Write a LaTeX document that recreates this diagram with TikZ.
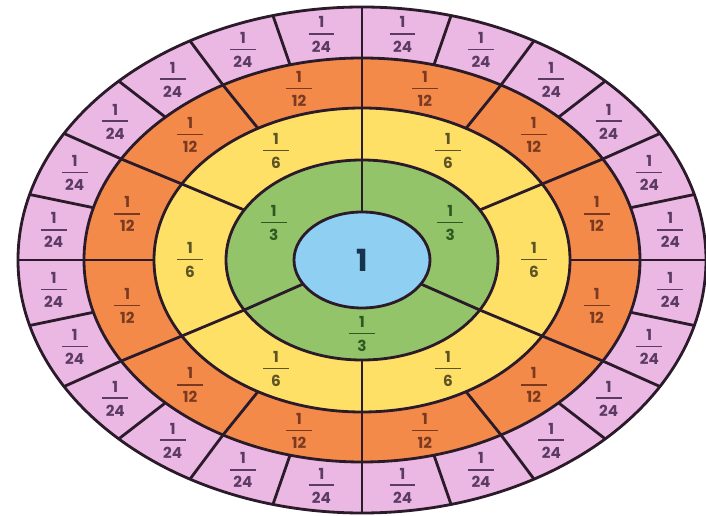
\documentclass[tikz,border=0pt]{standalone}
\usepackage{fontspec}
\setsansfont{Poppins}
\usetikzlibrary{positioning}

\definecolor{pinkfill}{HTML}{EBB8E3}
\definecolor{orangefill}{HTML}{F38A4A}
\definecolor{yellowfill}{HTML}{FFE066}
\definecolor{greenfill}{HTML}{93C46A}
\definecolor{bluefill}{HTML}{8FD0F2}
\definecolor{ringline}{HTML}{2A1A2A}
\definecolor{pinktext}{HTML}{5B3B63}
\definecolor{orangetext}{HTML}{7B3A20}
\definecolor{yellowtext}{HTML}{5C5424}
\definecolor{greentext}{HTML}{2E5A22}
\definecolor{onetext}{HTML}{16324F}

%% stacked fraction with a fixed-width bar
\newcommand{\fr}[2]{\shortstack{#1\\[1.5pt]\rule{22pt}{1.3pt}\\[2pt]#2}}

\begin{document}
\begin{tikzpicture}[
    x=0.03cm, y=0.03cm,
    %% ── Ring styles ─────────────────────────────────────────────────────
    ring/.style={draw=ringline, line width=2.4pt},
    divider/.style={draw=ringline, line width=2.4pt},
    %% ── Label styles ────────────────────────────────────────────────────
    fraclbl/.style={font=\sffamily\bfseries\fontsize{13}{14}\selectfont, inner sep=0pt},
    onelbl/.style={font=\sffamily\bfseries\fontsize{26}{28}\selectfont, text=onetext, inner sep=0pt},
]

\useasboundingbox (-362,-256) rectangle (344,260);

%%─────────────────────────────────────────────────────────────────────────
%% Fills (outermost first)
%%─────────────────────────────────────────────────────────────────────────
\fill[pinkfill]   (0,0) ellipse [x radius=344, y radius=253];
\fill[orangefill] (0,0) ellipse [x radius=278, y radius=202];
\fill[yellowfill] (0,0) ellipse [x radius=208, y radius=152];
\fill[greenfill]  (0,0) ellipse [x radius=136, y radius=100];
\fill[bluefill]   (0,0) ellipse [x radius=68,  y radius=48];

%%─────────────────────────────────────────────────────────────────────────
%% Dividers
%%─────────────────────────────────────────────────────────────────────────
%% thirds
\foreach \a in {90,210,330}
    \draw[divider] (\a:68 and 48) -- (\a:136 and 100);
%% sixths
\foreach \a in {30,90,...,330}
    \draw[divider] (\a:136 and 100) -- (\a:208 and 152);
%% twelfths
\foreach \a in {0,30,...,330}
    \draw[divider] (\a:208 and 152) -- (\a:278 and 202);
%% twenty-fourths
\foreach \a in {0,15,...,345}
    \draw[divider] (\a:278 and 202) -- (\a:344 and 253);

%%─────────────────────────────────────────────────────────────────────────
%% Ring outlines
%%─────────────────────────────────────────────────────────────────────────
\draw[ring] (0,0) ellipse [x radius=344, y radius=253];
\draw[ring] (0,0) ellipse [x radius=278, y radius=202];
\draw[ring] (0,0) ellipse [x radius=208, y radius=152];
\draw[ring] (0,0) ellipse [x radius=136, y radius=100];
\draw[ring] (0,0) ellipse [x radius=68,  y radius=48];

%%─────────────────────────────────────────────────────────────────────────
%% Labels
%%─────────────────────────────────────────────────────────────────────────
\node[onelbl] (whole) at (0,0) {1};

\foreach \i [evaluate=\i as \a using 30+120*\i] in {0,1,2}
    \node[fraclbl, text=greentext] (third\i) at (\a:102 and 74) {\fr{1}{3}};

\foreach \i [evaluate=\i as \a using 60*\i] in {0,...,5}
    \node[fraclbl, text=yellowtext] (sixth\i) at (\a:172 and 126) {\fr{1}{6}};

\foreach \i [evaluate=\i as \a using 15+30*\i] in {0,...,11}
    \node[fraclbl, text=orangetext] (twelfth\i) at (\a:243 and 177) {\fr{1}{12}};

\foreach \i [evaluate=\i as \a using 7.5+15*\i] in {0,...,23}
    \node[fraclbl, text=pinktext] (quarter\i) at (\a:311 and 227.5) {\fr{1}{24}};

\end{tikzpicture}
\end{document}
